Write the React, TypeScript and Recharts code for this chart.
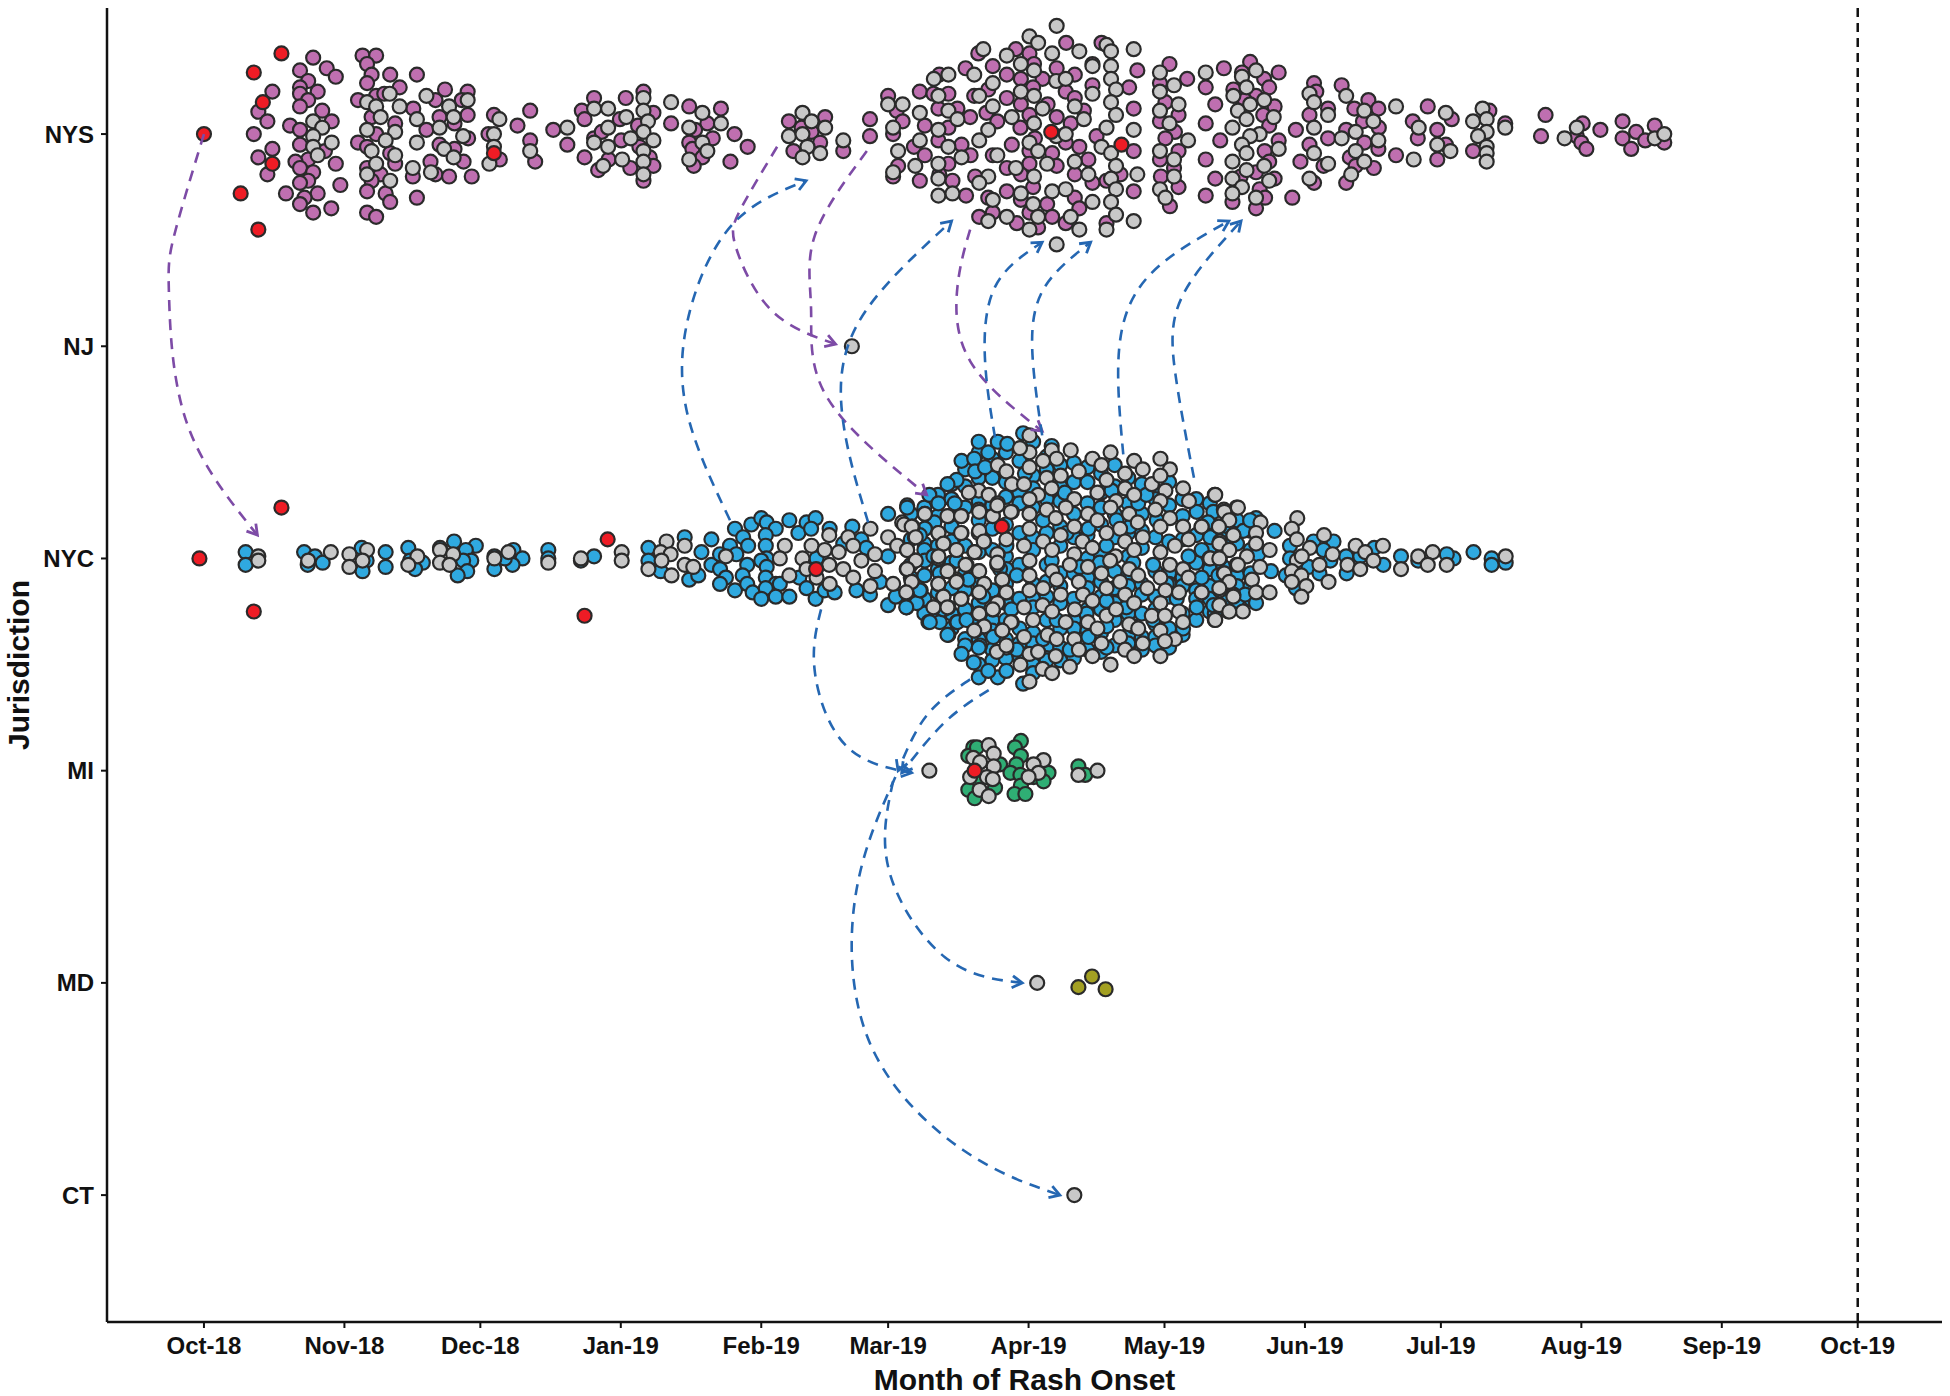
import { ScatterChart, Scatter, XAxis, YAxis, ReferenceLine } from 'recharts';

// x = days since 1 Oct 2018, second number = swarm offset in hundredths of a row
const monthDays = [0, 31, 61, 92, 123, 151, 182, 212, 243, 273, 304, 335, 365];
const monthLabels = ['Oct-18', 'Nov-18', 'Dec-18', 'Jan-19', 'Feb-19', 'Mar-19', 'Apr-19', 'May-19', 'Jun-19', 'Jul-19', 'Aug-19', 'Sep-19', 'Oct-19'];
const jurisdictions = ['CT', 'MD', 'MI', 'NYC', 'NJ', 'NYS'];

const nysCases = [
  [15.1,20],[12,10.5],[14,6],[11,0],[15.1,-7],[12,-11],[14,-19],[24.1,36],[21.2,30],[27.1,31],[29.1,27],[23,25],[21.2,22],[25.1,20],[21.2,19],[23,16],[21.2,13],[26.1,11],[28.2,6],[19,4],[21.2,2],[21.2,-5],[26.7,-8],[23,-12],[20.2,-13],[21.2,-16],[29.1,-14],[24.1,-18],[23,-22],[21.2,-23],[30.1,-24],[18.1,-28],[25.1,-28],[22.2,-30],[21.2,-33],[28.1,-35],[24.1,-37],
  [35,37],[38,37],[36,33],[37,28],[41.1,28],[36,24],[43.2,22],[38,18],[39.8,19],[34,16],[46.2,12],[37,8],[42.2,5],[38,0],[34,-4],[36,-6],[41.1,-9],[42.2,-14],[36,-16],[39,-19],[37,-22],[36,-27],[40.1,-28],[41.1,-32],[36,-37],[38,-39],
  [47,28],[51.1,16],[53.2,21],[58.2,20],[56.9,16],[52,8],[58.2,9],[55.3,5],[49.1,2],[58.3,-2],[52,-5],[55.3,-7],[57.3,-13],[50,-13],[51.1,-19],[54.1,-20],[59.1,-20],[46.1,-20],[47,-30],
  [64,9],[62.8,0],[65.3,-12],[72,11],[69.2,4],[72,-3],[73.1,-13],[77.1,2],[80.2,-5],[84,-11],[83.4,11],[84,7],[86.1,17],[93.1,17],[91.8,7],[86.1,-2],[87.8,1],[92.1,-3],[89.3,-12],[87,-17],[94.1,-16],
  [97,20],[99.2,10],[95.8,4],[96.1,-6],[98.4,-11],[99.2,-15],[97,-22],[107.1,13],[103.1,5],[111.1,5],[114.1,12],[108.4,2],[117.1,0],[120,-6],[112.3,-2],[107.1,-4],[107.8,-7],[110,-11],[108.1,-15],[116.2,-13],
  [129.1,6],[137.1,8],[131.9,3],[134.1,1],[136,-4],[130.1,-8],[147,7],[147,-1],[141.1,-8],[151,18],[152.9,11],[154.2,6],[152.1,0],[158,20],[159.1,4],[156.7,-6],[159.1,-10],[153.2,-15],[152.1,-20],[158,-22],
  [162.3,28],[161,19],[164.3,19],[162.1,12],[166.3,12],[169.1,8],[164.3,3],[162.1,-3],[167.2,-5],[169.2,-10],[164.3,-14],[162.3,-19],[165.2,-22],[168.2,-29],[168.1,31],[170.9,38],[170,18],[173.1,21],[172.7,10],[175.1,6],[174.1,32],[177.2,28],[179.2,40],[182.2,38],[183.2,33],[180.3,26],[185.1,26],[177.2,17],[180.3,14],[183,22],[186.2,14],[182.2,9],[188.2,8],[180.2,3],[183.4,-2],[191.3,5],[190.2,20],[192.2,28],[190.3,43],[188.2,31],[192.2,17],[194.2,11],[193.2,-6],[190.2,-4],[178.3,-5],[174.1,-10],[182.2,-8],[187.2,-9],[195.2,-12],[182.2,-14],[188.2,-15],[177.2,-16],[180.3,-19],[192.2,-19],[196.1,-23],[170.2,-20],[177.2,-27],[183,-25],[180.3,-31],[173.1,-30],[174.1,-37],[186.1,-33],[192.2,-30],[193.2,-35],[182.2,-37],[187.2,-39],[171.1,-39],[179.4,-42],[184.1,-44],[190.2,-42],[198.1,43],[196.1,33],[196.1,23],[197,-1],[199.2,-22],[199.2,-42],
  [213.1,33],[206,30],[211,24],[217,26],[221.1,22],[225.1,31],[204.2,22],[205.2,12],[212.2,15],[215.1,9],[211,6],[214.3,1],[212.2,-2],[215.1,-8],[211,-12],[214.1,-16],[211.2,-20],[215.1,-25],[213.2,-34],[205.2,-8],[202.3,-19],[205.2,-27],[221.1,5],[223.2,14],[224.3,-3],[221.1,-12],[223.2,-21],[221.1,-29],
  [230.9,34],[229.1,29],[237.2,29],[234,26],[235.1,22],[227.2,21],[232.2,18],[229.7,16],[236.3,13],[233.8,9],[235.1,4],[237.2,-3],[234.1,-8],[235.1,-13],[228.8,-20],[232.2,-18],[236.3,-21],[233,-26],[234.2,-30],[227,-32],[232.2,-35],[240.2,-30],[241,2],[245,24],[245.5,20],[248.1,12],[244,9],[248.1,-2],[244,-5],[242,-13],[247.1,-15],[245,-23],[251.1,23],[257,16],[253.9,12],[259.2,12],[255.8,6],[259.3,3],[252.1,2],[256.1,-4],[259.2,-7],[252.9,-11],[254.2,-15],[258.2,-16],[252.1,-23],
  [270.1,13],[266.8,6],[275.4,7],[272.2,2],[267.9,-2],[263.1,-10],[274.1,-5],[272.2,-12],[283.7,11],[280.1,-8],[287.2,5],[296.1,9],[295.1,-1],[304.3,5],[303,-1],[304,-4],[305.1,-7],[308.2,2],[313.1,6],[313.1,-2],[316.1,1],[315,-7],[318.1,-3],[320.2,4],[322.3,-4],
];

const nysContacts = [
  [41,19],[36,15],[38,13],[43.2,13],[39,8],[36,2],[42.2,1],[40.1,-3],[37,-8],[42.2,-10],[38,-14],[36,-19],[41.1,-22],[24.1,6],[26.1,3],[24.1,-1],[28.2,-4],[24.1,-6],[25.1,-10],[49.1,18],[54.1,13],[58.2,16],[55.1,8],[47,7],[52,3],[57.2,-1],[47,-4],[53,-7],[55.1,-11],[46.1,-16],[50.1,-18],
  [65.2,7],[64,0],[64,-6],[63,-14],[72,-8],[80.2,3],[86.1,12],[89.2,12],[93.2,8],[89.2,3],[86.1,-4],[94.2,-2],[89.2,-6],[92.3,-12],[88.1,-15],
  [97,17],[97,11],[98,6],[97,1],[99.2,-3],[97,-8],[97,-13],[97,-19],[103.1,15],[110,10],[107.1,3],[114.1,5],[110,-4],[111.1,-8],[107.1,-12],[132.1,10],[134.1,6],[137.1,3],[129.1,-1],[132.1,0],[133.2,-6],[136,-9],[132.1,-11],[141.1,-3],[151,14],[154.2,14],[152.1,3],[158,10],[158,-3],[153.2,-8],[157,-15],[152.1,-18],
  [161.1,26],[164.3,28],[162.1,18],[164.3,11],[166.3,7],[162.1,2],[164.3,-6],[167.2,-11],[162.1,-14],[162.1,-21],[162.1,-29],[165.2,-28],[172,40],[170,28],[174.1,24],[171.1,18],[174.1,13],[173.1,2],[171.1,-3],[175.1,-10],[173.1,-20],[171.1,-23],[174.1,-31],[173.1,-41],
  [177.2,37],[180.3,33],[182.2,46],[184.1,43],[188.2,51],[187.2,38],[193.2,39],[183.2,30],[188.1,25],[190.2,26],[180.3,20],[183.2,18],[185.1,12],[192.2,13],[178.3,8],[183.2,5],[194.2,7],[188.1,-1],[190.2,0],[182.2,-4],[184.1,-8],[186.1,-14],[192.2,-13],[179.2,-16],[183.2,-20],[195.2,-19],[180.3,-28],[187.2,-27],[190.2,-26],[183,-33],[196.1,-32],[177.2,-39],[184.1,-39],[191.3,-39],[182.2,-45],[193.2,-45],[188.2,-52],[199.2,-45],
  [199.2,42],[200.2,39],[196.1,32],[200.2,32],[200.2,26],[196.1,19],[201.3,21],[200.2,15],[201.3,9],[199.2,3],[198.1,-6],[200.2,-9],[201.3,-15],[200.2,-21],[201.3,-26],[200.2,-32],[201.3,-38],
  [205.2,40],[211,29],[214.1,23],[211,20],[215.1,14],[211,11],[213.1,5],[217.2,-3],[211,-8],[214.1,-12],[214.1,-20],[211,-26],[212.2,-30],[205.2,2],[206,-19],[205.2,-41],[221.1,29],[229.1,27],[232.2,30],[230.1,22],[227.2,18],[230.9,14],[234,16],[228.2,11],[230.1,7],[236.1,8],[227,3],[233,0],[230.9,-1],[229.1,-5],[237.2,-7],[230.1,-9],[227,-13],[234,-15],[230.1,-17],[227,-21],[235.1,-22],[229.1,-25],[227,-28],[232.2,-30],
  [244,19],[245,15],[248.1,9],[245,3],[245,-9],[248.1,-14],[244,-21],[252.1,18],[256.1,11],[258.1,6],[254.2,1],[251.1,-2],[259.2,-3],[254.2,-8],[256.1,-13],[253.2,-19],[263.1,13],[274.1,10],[268.1,3],[272.2,-5],[275.1,-8],[267,-12],[282.2,12],[280.1,6],[283.1,7],[283.1,1],[281.2,-1],[283.1,-6],[283.1,-9],[283.1,-13],[287.2,3],[300.3,-2],[303,3],[320.2,-2],[322.3,0],
];

const nysIndex = [[0,0],[17.1,38],[11,29],[13,15],[15.1,-14],[8.1,-28],[12,-45],[64,-9],[187,1],[202.5,-5]];

const nycCases = [
  [9.2,3],[9.2,-3],[22.1,3],[24.5,1],[26.2,-2],[22.9,-3],[34.8,5],[35.9,-1],[35,-6],[40.1,3],[40.1,-4],[45.1,5],[45.5,-1],[48.3,-2],[46.6,-5],[52.1,5],[55.2,8],[60,6],[57.8,4],[59,-1],[57.2,-1],[58.1,-6],[56,-8],[64.1,-5],[64.1,1],[68.3,4],[70.3,0],[68.1,-3],[66.4,0],[76,4],[76,0],[86.1,1],[83.2,-1],[98.1,5],[98.1,-1],[100.8,-6],
  [106.1,10],[109.8,3],[107.1,-10],[109.1,-8],[112,9],[112,-3],[116.1,6],[113.9,2],[117.5,2],[113.9,-5],[115.2,-9],[113.9,-12],[117.2,14],[117.2,-15],[119,10],[120.1,6],[119.9,-3],[118.9,-8],[119.9,-12],[121.1,-16],[120.8,16],[123,19],[124.2,17],[126.2,14],[124,11],[124,6],[124.2,0],[123,-1],[124.2,-4],[124,-9],[126.2,-12],[124,-14],[127.1,-12],[126.2,-18],[123,-19],[129.2,18],[129.2,-18],
  [131.2,12],[133,17],[135,19],[134,14],[138.1,14],[135.2,0],[131.4,-9],[133,-14],[135,-19],[137,-15],[139.2,-16],[141.1,7],[143.1,15],[145.1,9],[146.2,5],[144,-15],[147,-17],[149.2,-11],[151,1],[151,21],[155.2,25],[151,-22],[152.7,-18],[155.1,-23],[157.3,-21],[158.2,-15],[159.1,-1],[160.1,30],[162.1,26],[165.7,26],[161.2,17],[159.1,14],[159.9,-30],[162.4,-30],[164.3,-36],[166.1,-30],[178.2,-24],[177.1,-5],[171.3,-41],
  [171,55],[175.2,55],[177.3,54],[173.1,50],[167.2,46],[170,47],[170.2,41],[172.4,43],[166.1,37],[164.1,35],[155.2,24],[159.1,14],[158,-15],[155,-23],[160.2,-30],[164.1,-36],[166.3,-30],[167.2,-45],[171,-56],[175.2,-56],[173.1,-53],[177.1,-53],[171,-42],[169.9,-49],[180.8,59],[181.2,40],[187.1,53],[190,31],[195.2,14],[199.2,6],[200.3,32],[206.2,26],[208,30],[219.1,22],[220.2,4],[217.3,1],[220.2,-9],[219.1,-23],[199.2,-20],[195.2,-37],[209.5,-3],[216.1,-33],[199.2,-42],[180.8,-59],[191.1,-43],[185.2,-38],[175.7,-5],[177.1,6],[179.4,-8],[187.1,-1],[204.4,15],[197.7,-2],[201.4,18],[210.3,18],[222.8,10],[223.1,-26],[190.4,12],[185.2,18],[193.3,-4],[172,-18],[168.7,-10],[166.1,-1],[162.4,-7],[161,1],[158,11],[205.1,-2],[212.5,-12],[203.6,-23],[209.5,-29],[183,-23],[188.2,-29],[194.8,-26],[214.7,-19],[163.2,-24],[168.3,-29],[174.2,-37],[179.4,-43],[186,-48],[199.2,-32],[205.1,-32],
  [222.8,22],[221.6,17],[222.1,10],[229.4,13],[232.2,19],[230.9,18],[236.3,13],[232.7,2],[235.5,-6],[229.8,-17],[232.2,-21],[223.9,-8],[222.8,-22],[239.7,6],[239.7,0],[238.8,-8],[241,-14],[244.9,8],[249.3,8],[247.1,4],[248.6,-1],[243.8,-4],[246.2,-7],[252.1,1],[252.2,-7],[258.3,5],[260.3,-3],[264.2,1],[268,-1],[275.8,0],[274.3,2],[280.2,3],[284.2,0],[284.2,-3],[287.3,-2],[255.2,1],
];

// blue cases mostly hidden behind the grey ones in the dense part of the NYC swarm
const nycCasesBehind = [
  [156,21],[156,9],[156,-3],[156,-9],[156,-20],[159,24],[159,7],[159,4],[159,-8],[159,-19],[159,-26],[162,30],[162,20],[162,6],[162,-5],[162,-16],[162,-26],
  [165,35],[165,28],[165,15],[165,8],[165,-2],[165,-14],[165,-26],[165,-33],[168,42],[168,34],[168,24],[168,6],[168,-7],[168,-15],[168,-24],[168,-38],[168,-41],
  [171,50],[171,38],[171,27],[171,18],[171,3],[171,-11],[171,-21],[171,-31],[171,-38],[171,-50],[174,47],[174,38],[174,25],[174,14],[174,4],[174,-15],[174,-29],[174,-34],[174,-43],[174,-48],
  [177,50],[177,36],[177,29],[177,16],[177,1],[177,-12],[177,-21],[177,-29],[177,-38],[177,-47],[180,46],[180,31],[180,26],[180,12],[180,-3],[180,-19],[180,-33],[180,-40],[180,-46],
  [183,55],[183,39],[183,33],[183,24],[183,10],[183,4],[183,-12],[183,-19],[183,-35],[183,-40],[183,-50],[183,-54],[186,48],[186,42],[186,28],[186,12],[186,-3],[186,-11],[186,-18],[186,-29],[186,-42],[186,-47],
  [189,44],[189,34],[189,27],[189,15],[189,6],[189,-7],[189,-13],[189,-21],[189,-33],[189,-42],[189,-48],[192,45],[192,36],[192,21],[192,10],[192,-7],[192,-19],[192,-29],[192,-33],[192,-47],
  [195,43],[195,36],[195,26],[195,11],[195,0],[195,-9],[195,-14],[195,-24],[195,-34],[195,-43],[198,40],[198,31],[198,24],[198,16],[198,2],[198,-11],[198,-18],[198,-24],[198,-35],[198,-44],
  [201,44],[201,34],[201,21],[201,10],[201,-6],[201,-14],[201,-21],[201,-29],[201,-41],[204,38],[204,26],[204,12],[204,1],[204,-8],[204,-13],[204,-26],[204,-36],[204,-40],
  [207,35],[207,21],[207,13],[207,5],[207,-12],[207,-17],[207,-26],[207,-37],[207,-43],[210,32],[210,28],[210,10],[210,-6],[210,-18],[210,-24],[210,-31],[210,-37],[210,-41],
  [213,36],[213,25],[213,8],[213,-7],[213,-12],[213,-18],[213,-33],[213,-42],[216,28],[216,20],[216,9],[216,-9],[216,-13],[216,-26],[216,-36],[219,28],[219,11],[219,-2],[219,-15],[219,-19],[219,-29],
  [222,26],[222,16],[222,5],[222,-5],[222,-13],[222,-19],[222,-25],[225,14],[225,9],[225,-4],[225,-10],[225,-20],[228,18],[228,7],[228,-8],[228,-13],[228,-20],[231,13],[231,4],[231,-7],[231,-13],[231,-19],
];

const nycContacts = [
  [12,1],[12,-1],[28,3],[23,-1],[32.1,2],[32.1,-4],[36,4],[35,-1],[47.1,1],[45.1,-3],[52.1,4],[52.1,-2],[55,2],[54.2,-3],[64.1,0],[67.2,3],[76,-2],[83.2,0],[92.2,3],[92.2,-1],[98.1,-5],[102.1,8],[100.8,3],[103,2],[101,-1],[103.2,-8],
  [106.1,6],[106.1,-3],[108,-4],[115.2,1],[128.2,6],[127.1,0],[129.2,-8],[134.1,6],[138,11],[142.2,10],[137,4],[140.1,3],[143.3,6],[132.1,0],[138,-3],[141.1,-5],[133,-5],[143.3,-9],[138.1,-12],[135.2,-9],[147.1,14],[151,10],[148.1,2],[145.1,-1],[148.1,-6],[147.1,-13],[152.1,-12],
  [154.1,17],[159.1,21],[156.4,15],[156.9,10],[153,6],[155.2,4],[157,-1],[155.1,-5],[156.2,-11],[155.1,-16],[164.3,20],[167.2,20],[162.1,12],[167.2,12],[163.2,7],[166.1,4],[162.1,0],[164.3,-6],[168.3,-3],[162.1,-12],[166.1,-10],[167.2,-19],[163.2,-18],[161.1,-23],[164.3,-23],
  [182.2,58],[191.3,51],[200.1,50],[182.2,50],[180.1,52],[187.1,51],[185.2,46],[188.2,47],[175.2,44],[182.2,43],[177.1,41],[196.1,47],[198.1,44],[205.3,46],[211.1,47],[207.2,42],[213.2,42],[193.1,41],[189.1,39],[203.3,40],[186,38],[199.2,37],[209.2,35],[211.1,39],[178.3,35],[181,35],[187.1,33],[216.1,33],[212.2,32],[203.3,33],[171,32],[168.8,31],[173.2,30],[197.2,31],[184.1,30],[192.1,28],[205.3,30],[182.2,28],[223.1,30],[211.1,27],[201.3,27],[217.4,27],[175.2,26],[190.2,24],[200.1,24],[227.9,24],[186,23],[171,23],[225.1,23],[210,23],[178.3,22],[159.1,21],[195.1,21],[182.2,21],[164.1,20],[167.1,20],[174.1,20],[204.2,21],[213.2,19],[188,19],[226.1,19],[197.2,18],[206.1,17],[154.5,16],[192.1,15],[211.1,15],[220.2,15],[216.1,15],[224,15],[182.2,14],[202.2,14],[156.2,15],[162.1,12],[171,12],[167.1,12],[199.2,12],[189.1,11],[207.2,10],[227.2,11],[217.3,9],[157.1,10],[177.1,9],[185.2,8],[193.9,8],[203.3,8],[224.2,8],[163.2,7],[172.2,8],[196.1,5],[181,6],[205.3,4],[155.2,4],[214.3,6],[226.1,4],[166.1,4],[187.2,4],[170,3],[192.1,2],[211.1,3],[175.2,2],[201.2,1],[162.1,1],[157.1,-1],[224.2,0],[221.9,0],[182.2,-1],[213.2,-3],[175.1,-3],[168.1,-3],[191.1,-3],[227.9,-3],[200,-1],[195.1,-4],[204.2,-5],[216.1,-5],[155.2,-5],[164.1,-6],[171,-6],[187.2,-6],[206.2,-8],[198.1,-7],[211.1,-9],[217.3,-9],[225.1,-7],[182.2,-8],[188.2,-10],[176.2,-10],[166.1,-11],[193.1,-11],[202.2,-11],[156.2,-11],[162.1,-12],[226.1,-11],[172.2,-12],[199.2,-14],[208.2,-14],[182.2,-15],[185.2,-14],[212.2,-15],[215.2,-16],[220.2,-16],[224.2,-15],[177.1,-16],[171,-16],[189.1,-17],[194,-17],[155,-16],[203.3,-17],[227.2,-17],[167.1,-19],[163.2,-18],[196.1,-20],[205.3,-21],[175.2,-21],[185.1,-22],[211.1,-21],[224.2,-22],[161,-23],[164.1,-23],[181,-23],[192.2,-24],[199.2,-27],[215.2,-25],[209.2,-27],[226.1,-25],[201.3,-24],[171,-26],[187.2,-25],[212.1,-27],[216.1,-30],[223.1,-29],[183,-29],[190.2,-30],[195.1,-30],[178.3,-30],[204.2,-31],[174.2,-24],[172,-32],[170.2,-34],[176.2,-34],[197.2,-33],[206.2,-33],[211.1,-34],[181,-37],[186.2,-36],[192.1,-38],[202.2,-37],[214.3,-38],[198.1,-40],[207.2,-40],[212.1,-39],[188.2,-38],[177.1,-42],[193.1,-43],[203.3,-43],[175,-44],[182.2,-45],[184.1,-44],[188,-46],[196.1,-46],[205.3,-46],[211.1,-46],[180.2,-50],[191.1,-51],[200.1,-50],[185.1,-52],[187.2,-54],[182.2,-58],
  [171.1,22],[174.1,20],[178.1,22],[175.1,25],[171.1,13],[172.1,8],[170.1,3],[175.1,2],[171.1,-6],[175.1,-2],[176.2,-10],[172.2,-12],[171.1,-16],[177.1,-16],[175.1,-21],[171.1,-26],[174.1,-24],[178.1,-30],[172.2,-32],[170,-34],[176.2,-34],[177.1,-41],
  [223.2,30],[225.2,22],[228.2,24],[226.3,18],[220.2,15],[224,15],[227.2,11],[233.2,17],[232.2,12],[224.1,7],[232.2,7],[226.3,4],[235.2,4],[230.2,1],[222.1,0],[224.1,0],[228.2,-3],[233.1,-4],[225.2,-7],[226.3,-11],[231.3,-10],[224.1,-14],[220.2,-16],[232.2,-16],[235.2,-16],[227.2,-18],[224.1,-22],[229.3,-25],[226.3,-25],[223.2,-29],
  [241.3,19],[240.1,14],[241.2,9],[244.1,5],[247.2,11],[241.2,-1],[242.3,1],[249.1,2],[246.2,-3],[240.1,-6],[242.2,-8],[240.1,-11],[243.3,-13],[242.2,-18],[248.2,-11],[254.2,6],[256.3,3],[260.2,6],[252.4,-3],[255.2,-5],[258.1,-1],[264.2,-5],[268,1],[271.2,3],[270.1,-3],[274.3,-3],[287.3,1],
];

const nycIndex = [[-1,0],[17.1,24],[11,-25],[89.1,9],[84,-27],[135.1,-5],[176.1,15]];

const miCases = [[169.8,11],[168.7,7],[170.6,11],[175.7,3],[170.6,-4],[168.7,-9],[174.6,-8],[170.1,-13],[180.3,14],[179,11],[180.3,7],[179.3,3],[178,-1],[180.2,-2],[180.3,-7],[178.9,-11],[181.3,-11],[183.1,-3],[186.4,-1],[185.3,-5],[193,2],[194.5,-2]];
const miContacts = [[160.1,0],[173.2,12],[174.3,8],[169.8,6],[171.3,4],[174.3,2],[172.8,-3],[174.1,-4],[169.1,-3],[171.2,-9],[173.2,-12],[185.3,5],[183.1,3],[184.2,-1],[182,-3],[197.2,0],[193,-2]];
const miIndex = [[170.1,0]];

const mdCases = [[193,-2],[196,3],[199,-3]];
const mdContacts = [[183.9,0]];
const njContacts = [[143,0]];
const ctContacts = [[192.1,0]];

// transmission arrows: waypoints as [day, row]
const purpleArrows = [
  [[0,5],[-6.6,4.52],[-7.7,4.23],[-3.8,3.64],[11.8,3.11]],
  [[126.5,4.94],[118.3,4.64],[117.5,4.46],[125.2,4.17],[139.4,4.01]],
  [[146.3,4.92],[134.8,4.52],[134,4.17],[137.5,3.76],[159.5,3.3]],
  [[169.1,4.55],[166.3,4.28],[169.1,3.93],[185,3.6]],
];
const blueArrows = [
  [[116.1,3.18],[106.5,3.7],[107.3,4.17],[116.9,4.58],[132.9,4.78]],
  [[146.6,3.17],[141.1,3.64],[144.4,4.11],[165,4.59]],
  [[174.6,3.57],[172.4,3.93],[174.6,4.28],[185,4.49]],
  [[185,3.58],[182.8,3.99],[185.6,4.28],[195.7,4.49]],
  [[202.9,3.49],[202,3.99],[208.9,4.34],[226.2,4.59]],
  [[218.5,3.38],[214.4,3.87],[215.8,4.23],[228.9,4.59]],
  [[136.2,2.76],[134.8,2.47],[141.6,2.12],[156.2,1.99]],
  [[169.1,2.43],[159.5,2.26],[153.2,2]],
  [[173.2,2.38],[163.6,2.23],[154,1.99]],
  [[152.1,1.95],[151.2,1.53],[163.6,1.12],[180.6,1]],
  [[152.6,1.97],[143.8,1.41],[147.1,0.71],[167.7,0.21],[188.9,0]],
];

const PURPLE = '#bf6fb0';
const GRAY = '#c8c8c8';
const BLUE = '#2fa9e0';
const GREEN = '#2fae74';
const OLIVE = '#a3a022';
const RED = '#ee1c25';

const toPoints = (row: number, pairs: number[][]) => pairs.map(([x, off]) => ({ x, y: row + off / 100 }));
const toPath = (pts: number[][]) => pts.map(([x, y]) => ({ x, y }));

const dot = (fill: string) => (p: any) => (
  <circle cx={p.cx} cy={p.cy} r={7} fill={fill} stroke="#2a2a2a" strokeWidth={2.2} />
);
const noDot = () => <g />;

const layers: [number, number[][], string][] = [
  [5, nysCases, PURPLE],
  [5, nysContacts, GRAY],
  [5, nysIndex, RED],
  [4, njContacts, GRAY],
  [3, nycCasesBehind, BLUE],
  [3, nycCases, BLUE],
  [3, nycContacts, GRAY],
  [3, nycIndex, RED],
  [2, miCases, GREEN],
  [2, miContacts, GRAY],
  [2, miIndex, RED],
  [1, mdCases, OLIVE],
  [1, mdContacts, GRAY],
  [0, ctContacts, GRAY],
];

const tickStyle = { fontFamily: 'Liberation Sans', fontWeight: 700, fontSize: 24, fill: '#111' };
const titleStyle = { fontFamily: 'Liberation Sans', fontWeight: 700, fontSize: 30, fill: '#111' };

function arrowMarker(id: string, color: string) {
  return (
    <marker id={id} markerWidth="16" markerHeight="16" refX="13" refY="8" orient="auto" markerUnits="userSpaceOnUse">
      <path d="M3,2 L13,8 L3,14" fill="none" stroke={color} strokeWidth={2.8} />
    </marker>
  );
}

export default function App() {
  return (
    <div style={{ position: 'absolute', left: 0, top: 0, background: '#fff' }}>
      <ScatterChart width={1950} height={1396} margin={{ top: 8, right: 8, bottom: 24, left: 7 }}>
        <defs>
          {arrowMarker('arrowPurple', '#7d4ba6')}
          {arrowMarker('arrowBlue', '#2567b2')}
        </defs>
        <XAxis
          type="number"
          dataKey="x"
          domain={[-21.4, 383.6]}
          ticks={monthDays}
          interval={0}
          height={50}
          allowDataOverflow
          tickFormatter={(v: number) => monthLabels[monthDays.indexOf(v)]}
          tick={tickStyle}
          tickLine={{ stroke: '#111', strokeWidth: 2 }}
          axisLine={{ stroke: '#111', strokeWidth: 2.5 }}
          tickSize={6}
          tickMargin={9}
          label={{ value: 'Month of Rash Onset', position: 'insideBottom', offset: -18, style: titleStyle }}
        />
        <YAxis
          type="number"
          dataKey="y"
          domain={[-0.598, 5.594]}
          ticks={[0, 1, 2, 3, 4, 5]}
          interval={0}
          width={100}
          allowDataOverflow
          tickFormatter={(v: number) => jurisdictions[v]}
          tick={tickStyle}
          tickLine={{ stroke: '#111', strokeWidth: 2 }}
          axisLine={{ stroke: '#111', strokeWidth: 2.5 }}
          tickSize={6}
          tickMargin={7}
          label={{ value: 'Jurisdiction', angle: -90, position: 'insideLeft', offset: 11, style: { ...titleStyle, textAnchor: 'middle' } }}
        />
        <ReferenceLine x={365} stroke="#111" strokeWidth={2.5} strokeDasharray="9 6" />
        {layers.map(([row, pairs, fill], i) => (
          <Scatter key={i} data={toPoints(row, pairs)} shape={dot(fill)} isAnimationActive={false} />
        ))}
        {purpleArrows.map((a, i) => (
          <Scatter
            key={'p' + i}
            data={toPath(a)}
            shape={noDot}
            line={{ stroke: '#7d4ba6', strokeWidth: 2.6, strokeDasharray: '11 8', markerEnd: 'url(#arrowPurple)' }}
            lineJointType="natural"
            isAnimationActive={false}
          />
        ))}
        {blueArrows.map((a, i) => (
          <Scatter
            key={'b' + i}
            data={toPath(a)}
            shape={noDot}
            line={{ stroke: '#2567b2', strokeWidth: 2.6, strokeDasharray: '11 8', markerEnd: 'url(#arrowBlue)' }}
            lineJointType="natural"
            isAnimationActive={false}
          />
        ))}
      </ScatterChart>
    </div>
  );
}
